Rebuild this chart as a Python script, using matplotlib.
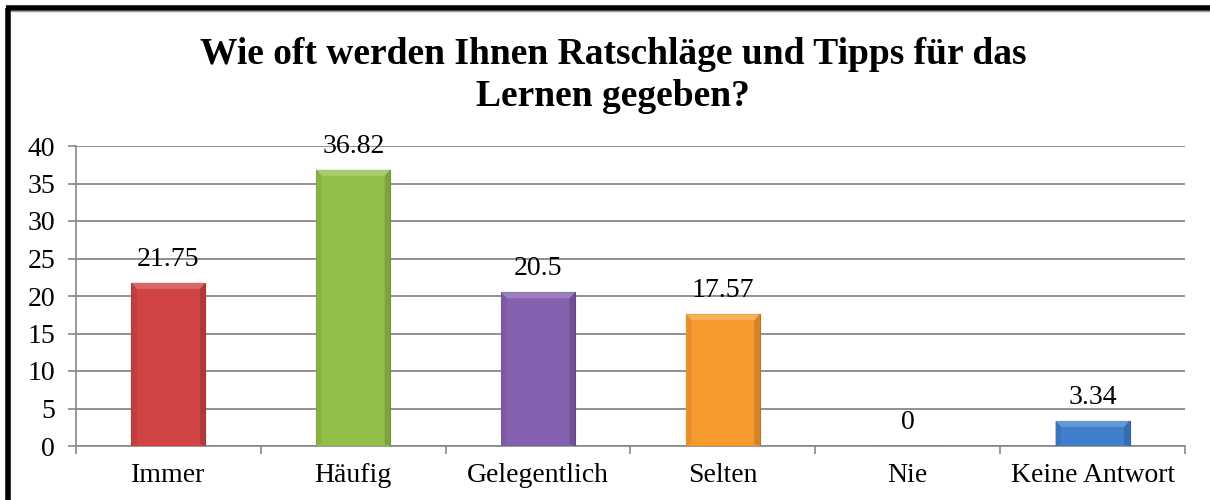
import numpy as np
import matplotlib.pyplot as plt
from matplotlib.patches import Polygon
from matplotlib.lines import Line2D

# Daten
categories = ['Immer', 'Häufig', 'Gelegentlich', 'Selten', 'Nie', 'Keine Antwort']
values = [21.75, 36.82, 20.5, 17.57, 0, 3.34]
labels = ['21.75', '36.82', '20.5', '17.57', '0', '3.34']
colors = ['#D04443', '#94BE4A', '#8461AE', '#F79A2E', '#8DB3E2', '#3F7FCB']
yticks = [0, 5, 10, 15, 20, 25, 30, 35, 40]

plt.rcParams['font.family'] = ['Liberation Serif', 'DejaVu Serif']

fig = plt.figure(figsize=(12.1, 5.0), dpi=100)
ax = fig.add_axes([76 / 1210, 54 / 500, 1109 / 1210, 300 / 500])

x = np.arange(len(categories))
width = 0.4


def shade(c, f):
    rgb = np.array(plt.matplotlib.colors.to_rgb(c))
    if f >= 1:
        return tuple(rgb + (1 - rgb) * (f - 1))
    return tuple(rgb * f)


bars = ax.bar(x, values, width=width, color=colors, zorder=3,
              edgecolor=[shade(c, 0.75) for c in colors], linewidth=0.8)

# Abgeschrägte Kanten (Bevel) grob nachbilden
bx = 0.03
by = 0.8
for xi, v, c in zip(x, values, colors):
    if v <= 0:
        continue
    l, r = xi - width / 2, xi + width / 2
    b = min(by, v / 3)
    top = Polygon([(l, v), (r, v), (r - bx, v - b), (l + bx, v - b)],
                  closed=True, color=shade(c, 1.2), zorder=4, lw=0)
    left = Polygon([(l, 0), (l, v), (l + bx, v - b), (l + bx, b * 0.3)],
                   closed=True, color=shade(c, 0.93), zorder=4, lw=0)
    right = Polygon([(r, 0), (r, v), (r - bx, v - b), (r - bx, b * 0.3)],
                    closed=True, color=shade(c, 0.85), zorder=4, lw=0)
    ax.add_patch(top)
    ax.add_patch(left)
    ax.add_patch(right)

for xi, v, t in zip(x, values, labels):
    ax.annotate(t, (xi, v), xytext=(0, 8), textcoords='offset points',
                ha='center', va='bottom', fontsize=20, zorder=5)

ax.set_xlim(-0.5, len(categories) - 0.5)
ax.set_ylim(0, 40)
ax.set_yticks(yticks)
ax.tick_params(axis='y', labelsize=20, length=6, color='#888888', width=1.2, pad=9)
ax.set_xticks(x)
ax.set_xticklabels(categories)
ax.set_xticks(np.arange(-0.5, len(categories)), minor=True)
ax.tick_params(axis='x', which='major', length=0, labelsize=20, pad=12)
ax.tick_params(axis='x', which='minor', length=6, color='#888888', width=1.2)
ax.grid(axis='y', color='#888888', linewidth=1.3, zorder=0)
ax.set_axisbelow(True)
for s in ['top', 'right']:
    ax.spines[s].set_visible(False)
for s in ['left', 'bottom']:
    ax.spines[s].set_color('#888888')
    ax.spines[s].set_linewidth(1.2)

fig.text(613 / 1210, 1 - 55 / 500, 'Wie oft werden Ihnen Ratschläge und Tipps für das',
         ha='center', va='center', fontsize=27, fontweight='bold')
fig.text(613 / 1210, 1 - 97 / 500, 'Lernen gegeben?',
         ha='center', va='center', fontsize=27, fontweight='bold')

# Rahmen links und oben
fig.add_artist(Line2D([8 / 1210, 8 / 1210], [0, 1 - 8 / 500], color='black', lw=4,
                      transform=fig.transFigure, solid_capstyle='butt'))
fig.add_artist(Line2D([6 / 1210, 1], [1 - 8 / 500, 1 - 8 / 500], color='black', lw=4,
                      transform=fig.transFigure, solid_capstyle='butt'))
fig.add_artist(Line2D([11 / 1210, 1], [1 - 11 / 500, 1 - 11 / 500], color='#999999', lw=1,
                      transform=fig.transFigure))

fig.savefig('out.png', dpi=100)
